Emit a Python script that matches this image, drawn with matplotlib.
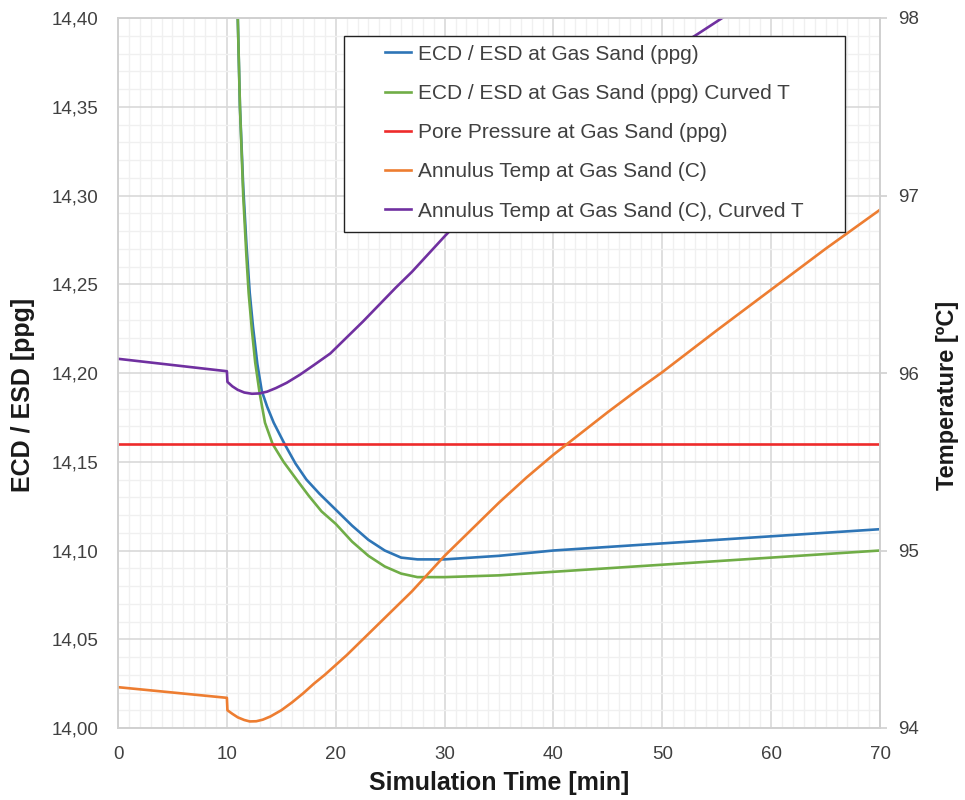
import matplotlib.pyplot as plt
from matplotlib.patches import Rectangle
from matplotlib.ticker import MultipleLocator, FuncFormatter

plt.rcParams['font.family'] = ['Liberation Sans', 'DejaVu Sans']

# ECD / ESD curves (ppg), left axis
t_ecd = [10.9, 11.0, 11.2, 11.5, 11.8, 12.1, 12.4, 12.8, 13.2, 13.7, 14.3, 15.3,
         16.3, 17.3, 18.5, 20, 21.5, 23, 24.5, 26, 27.5, 30, 35, 40, 45, 50, 55,
         60, 65, 70]
ecd = [14.46, 14.40, 14.35, 14.305, 14.272, 14.245, 14.226, 14.205, 14.19,
       14.181, 14.172, 14.16, 14.149, 14.14, 14.132, 14.123, 14.114, 14.106,
       14.100, 14.096, 14.095, 14.095, 14.097, 14.100, 14.102, 14.104, 14.106,
       14.108, 14.110, 14.112]

t_ecd_c = [10.9, 11.0, 11.2, 11.5, 11.8, 12.0, 12.3, 12.6, 13.0, 13.5, 14.2,
           15.2, 16.4, 17.5, 18.7, 20, 21.5, 23, 24.5, 26, 27.5, 30, 35, 40, 45,
           50, 55, 60, 65, 70]
ecd_c = [14.46, 14.40, 14.35, 14.30, 14.265, 14.245, 14.224, 14.206, 14.189,
         14.172, 14.16, 14.15, 14.14, 14.131, 14.122, 14.115, 14.105, 14.097,
         14.091, 14.087, 14.085, 14.085, 14.086, 14.088, 14.090, 14.092, 14.094,
         14.096, 14.098, 14.100]

t_pore = [0, 70]
pore = [14.16, 14.16]

# annulus temperature (C), right axis
t_temp = [0, 10, 10.05, 10.5, 11, 11.6, 12.1, 12.7, 13.3, 14.0, 15.0, 16.0,
          17.0, 18.0, 19.0, 20.0, 21.0, 22.5, 24, 25.5, 27, 28.5, 30, 32.5, 35,
          37.5, 40, 42.5, 45, 47.5, 50, 55, 60, 65, 70]
temp = [94.23, 94.17, 94.10, 94.08, 94.06, 94.045, 94.037, 94.038, 94.047,
        94.065, 94.10, 94.145, 94.195, 94.25, 94.30, 94.355, 94.41, 94.50,
        94.59, 94.68, 94.77, 94.87, 94.97, 95.12, 95.27, 95.41, 95.54, 95.66,
        95.78, 95.895, 96.005, 96.24, 96.47, 96.70, 96.92]

t_temp_c = [0, 10, 10.05, 10.5, 11, 11.6, 12.3, 13, 13.7, 14.5, 15.5, 16.7, 18,
            19.5, 21, 22.5, 24, 25.5, 27, 28.5, 30, 32.5, 35, 37.5, 40, 42.5,
            45, 47.5, 50, 53, 56]
temp_c = [96.08, 96.01, 95.95, 95.925, 95.905, 95.89, 95.883, 95.885, 95.895,
          95.915, 95.945, 95.99, 96.045, 96.11, 96.20, 96.29, 96.385, 96.48,
          96.57, 96.67, 96.77, 96.93, 97.08, 97.23, 97.36, 97.49, 97.60, 97.70,
          97.79, 97.90, 98.02]

txt = '#404040'
lab = '#1a1a1a'
lw = 1.9

fig = plt.figure(figsize=(9.65, 8), dpi=100)
ax1 = fig.add_axes([0.1223, 0.09, 0.7897, 0.8875])
ax2 = ax1.twinx()

l1, = ax1.plot(t_ecd, ecd, color='#2E75B6', lw=lw, label='ECD / ESD at Gas Sand (ppg)')
l2, = ax1.plot(t_ecd_c, ecd_c, color='#70AD47', lw=lw, label='ECD / ESD at Gas Sand (ppg) Curved T')
l3, = ax1.plot(t_pore, pore, color='#EE2B2B', lw=lw, label='Pore Pressure at Gas Sand (ppg)')
l4, = ax2.plot(t_temp, temp, color='#ED7D31', lw=lw, label='Annulus Temp at Gas Sand (C)')
l5, = ax2.plot(t_temp_c, temp_c, color='#7030A0', lw=lw, label='Annulus Temp at Gas Sand (C), Curved T')

ax1.set_xlim(0, 70)
ax1.set_ylim(14.0, 14.4)
ax2.set_ylim(94, 98)

ax1.xaxis.set_major_locator(MultipleLocator(10))
ax1.xaxis.set_minor_locator(MultipleLocator(1))
ax1.yaxis.set_major_locator(MultipleLocator(0.05))
ax1.yaxis.set_minor_locator(MultipleLocator(0.01))
ax1.yaxis.set_major_formatter(FuncFormatter(lambda v, p: f'{v:.2f}'.replace('.', ',')))
ax2.yaxis.set_major_locator(MultipleLocator(1))

ax1.grid(True, which='major', color='#D9D9D9', lw=1.2)
ax1.grid(True, which='minor', color='#F0F0F0', lw=1.0)
ax1.set_axisbelow(True)

ax1.tick_params(axis='both', which='both', length=0, labelsize=13.5, colors=txt)
ax1.tick_params(axis='y', pad=14)
ax1.tick_params(axis='x', pad=13)
ax2.tick_params(axis='y', which='major', length=5, width=1.2, color='#D0D0D0',
                labelsize=13.5, labelcolor=txt, pad=8)
ax2.tick_params(axis='y', which='minor', length=0)

for ax in (ax1, ax2):
    for s in ax.spines.values():
        s.set_color('#D0D0D0')
        s.set_linewidth(1.2)

ax1.set_xlabel('Simulation Time [min]', fontsize=18, fontweight='bold', color=lab, labelpad=6)
ax1.set_ylabel('ECD / ESD [ppg]', fontsize=18, fontweight='bold', color=lab)
ax1.yaxis.set_label_coords(-0.109, 0.469)
ax2.set_ylabel('Temperature [ºC]', fontsize=17, fontweight='bold', color=lab)
ax2.yaxis.set_label_coords(1.073, 0.469)

# legend frame drawn separately (Excel-style wide box with left inset)
frame = Rectangle((0.2966, 0.6986), 0.6575, 0.276, transform=ax2.transAxes,
                  facecolor='white', edgecolor='#222222', lw=1.0, zorder=5,
                  clip_on=False)
ax2.add_patch(frame)

leg = ax2.legend(handles=[l1, l2, l3, l4, l5], loc='upper left',
                 bbox_to_anchor=(0.3504, 0.9624), frameon=False,
                 fontsize=15, handlelength=1.25, handletextpad=0.34,
                 labelspacing=0.97, borderpad=0, borderaxespad=0)
for tx in leg.get_texts():
    tx.set_color(txt)
leg.set_zorder(10)

fig.savefig('out.png', dpi=100)
